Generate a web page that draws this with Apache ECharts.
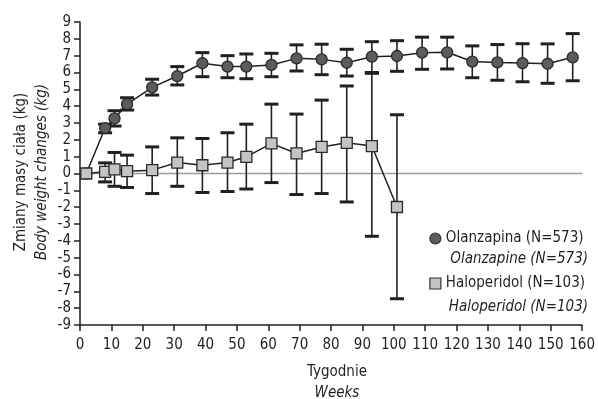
<!DOCTYPE html>
<html>
<head>
<meta charset="utf-8">
<script src="https://cdn.jsdelivr.net/npm/echarts@6/dist/echarts.min.js"></script>
<style>
html,body{margin:0;padding:0;background:#fff;}
#chart{width:598px;height:399px;}
</style>
</head>
<body>
<div id="chart"></div>
<script>
// ---- data ----
var olzWeeks = [2, 8, 11, 15, 23, 31, 39, 47, 53, 61, 69, 77, 85, 93, 101, 109, 117, 125, 133, 141, 149, 157];
var olzMean  = [0, 2.7, 3.27, 4.12, 5.12, 5.79, 6.55, 6.35, 6.35, 6.45, 6.84, 6.78, 6.58, 6.94, 6.98, 7.18, 7.2, 6.65, 6.6, 6.56, 6.52, 6.9];
var olzUpper = [null, 2.93, 3.73, 4.5, 5.6, 6.35, 7.18, 7.0, 7.1, 7.14, 7.64, 7.68, 7.38, 7.83, 7.89, 8.1, 8.1, 7.58, 7.66, 7.71, 7.7, 8.31];
var olzLower = [null, 2.42, 2.82, 3.77, 4.66, 5.26, 5.75, 5.69, 5.63, 5.75, 6.09, 5.87, 5.79, 6.0, 6.07, 6.19, 6.21, 5.69, 5.54, 5.45, 5.36, 5.51];

var halWeeks = [2, 8, 11, 15, 23, 31, 39, 47, 53, 61, 69, 77, 85, 93, 101];
var halMean  = [0, 0.1, 0.24, 0.14, 0.2, 0.65, 0.49, 0.65, 0.99, 1.79, 1.19, 1.58, 1.82, 1.63, -1.99];
var halUpper = [null, 0.63, 1.25, 1.09, 1.58, 2.12, 2.08, 2.42, 2.93, 4.12, 3.53, 4.36, 5.2, 5.95, 3.49];
var halLower = [null, -0.5, -0.76, -0.83, -1.19, -0.76, -1.13, -1.07, -0.92, -0.54, -1.25, -1.19, -1.69, -3.73, -7.44];

var xTicks = {min: 0, max: 160, interval: 10};
var yTicks = {min: -9, max: 9, interval: 1};

var seriesNames = ['Olanzapina (N=573)', 'Haloperidol (N=103)'];
var seriesNamesEn = ['Olanzapine (N=573)', 'Haloperidol (N=103)'];
var yTitle = ['Zmiany masy ciała (kg)', 'Body weight changes (kg)'];
var xTitle = ['Tygodnie', 'Weeks'];

// ---- build ----
var FONT = '"Liberation Sans Narrow", "DejaVu Sans Condensed", "Roboto", sans-serif';
var INK = '#231f20';

function pairs(xs, ys) { return xs.map(function (x, i) { return [x, ys[i]]; }); }
function errData(xs, lo, hi) {
  var out = [];
  xs.forEach(function (x, i) { if (lo[i] != null && hi[i] != null) out.push([x, lo[i], hi[i]]); });
  return out;
}
function errRender(params, api) {
  var x = api.value(0);
  var p1 = api.coord([x, api.value(1)]);
  var p2 = api.coord([x, api.value(2)]);
  var hw = 7;
  return {
    type: 'group',
    children: [
      {type: 'line', shape: {x1: p1[0], y1: p1[1], x2: p2[0], y2: p2[1]}, style: {stroke: INK, lineWidth: 1.6}},
      {type: 'line', shape: {x1: p1[0] - hw, y1: p1[1], x2: p1[0] + hw, y2: p1[1]}, style: {stroke: INK, lineWidth: 3}},
      {type: 'line', shape: {x1: p2[0] - hw, y1: p2[1], x2: p2[0] + hw, y2: p2[1]}, style: {stroke: INK, lineWidth: 3}}
    ]
  };
}

var chart = echarts.init(document.getElementById('chart'), null, {renderer: 'canvas'});
var option = {
  animation: false,
  backgroundColor: '#fff',
  textStyle: {fontFamily: FONT},
  grid: {left: 80, right: 10, top: 22, bottom: 74, containLabel: false},
  xAxis: {
    type: 'value', min: xTicks.min, max: xTicks.max, interval: xTicks.interval,
    axisLine: {show: true, onZero: false, lineStyle: {color: INK, width: 1.5}},
    axisTick: {show: true, length: 6, lineStyle: {color: INK, width: 1.5}},
    axisLabel: {color: INK, fontSize: 15, fontFamily: FONT, margin: 13},
    splitLine: {show: false}
  },
  yAxis: {
    type: 'value', min: yTicks.min, max: yTicks.max, interval: yTicks.interval,
    axisLine: {show: true, lineStyle: {color: INK, width: 1.5}},
    axisTick: {show: true, length: 6, lineStyle: {color: INK, width: 1.5}},
    axisLabel: {color: INK, fontSize: 15, fontFamily: FONT, margin: 9},
    splitLine: {show: false}
  },
  legend: {
    orient: 'vertical', right: 8, top: 226, itemGap: 30,
    itemWidth: 11, itemHeight: 11, align: 'left',
    textStyle: {color: INK, fontSize: 15, fontFamily: FONT},
    data: [
      {name: seriesNames[0], icon: 'circle', itemStyle: {color: '#5c5c5c', borderColor: '#333', borderWidth: 1.2}},
      {name: seriesNames[1], icon: 'rect', itemStyle: {color: '#c4c4c4', borderColor: '#333', borderWidth: 1.2}}
    ]
  },
  graphic: [
    {type: 'text', x: 21, y: 172, rotation: Math.PI / 2,
     style: {text: yTitle[0], font: '15px ' + FONT, fill: INK, textAlign: 'center', textVerticalAlign: 'middle'}},
    {type: 'text', x: 42, y: 172, rotation: Math.PI / 2,
     style: {text: yTitle[1], font: 'italic 15px ' + FONT, fill: INK, textAlign: 'center', textVerticalAlign: 'middle'}},
    {type: 'text', x: 337, y: 372,
     style: {text: xTitle[0], font: '15px ' + FONT, fill: INK, textAlign: 'center', textVerticalAlign: 'middle'}},
    {type: 'text', x: 337, y: 393,
     style: {text: xTitle[1], font: 'italic 15px ' + FONT, fill: INK, textAlign: 'center', textVerticalAlign: 'middle'}},
    {type: 'text', x: 588, y: 259,
     style: {text: seriesNamesEn[0], font: 'italic 15px ' + FONT, fill: INK, textAlign: 'right', textVerticalAlign: 'middle'}},
    {type: 'text', x: 588, y: 307,
     style: {text: seriesNamesEn[1], font: 'italic 15px ' + FONT, fill: INK, textAlign: 'right', textVerticalAlign: 'middle'}}
  ],
  series: [
    {
      type: 'line', name: 'zero', data: [[xTicks.min, 0], [xTicks.max, 0]], symbol: 'none', silent: true,
      lineStyle: {color: '#9a9a9a', width: 1.5}, z: 1
    },
    {type: 'custom', name: 'olzErr', renderItem: errRender, data: errData(olzWeeks, olzLower, olzUpper), z: 2},
    {type: 'custom', name: 'halErr', renderItem: errRender, data: errData(halWeeks, halLower, halUpper), z: 2},
    {
      type: 'line', name: seriesNames[0], data: pairs(olzWeeks, olzMean),
      symbol: 'circle', symbolSize: 11,
      lineStyle: {color: INK, width: 1.5},
      itemStyle: {color: '#5c5c5c', borderColor: '#2a2a2a', borderWidth: 1.3}, z: 4
    },
    {
      type: 'line', name: seriesNames[1], data: pairs(halWeeks, halMean),
      symbol: 'rect', symbolSize: 11,
      lineStyle: {color: INK, width: 1.5},
      itemStyle: {color: '#c4c4c4', borderColor: '#2a2a2a', borderWidth: 1.3}, z: 5
    }
  ]
};
chart.setOption(option);
</script>
</body>
</html>
